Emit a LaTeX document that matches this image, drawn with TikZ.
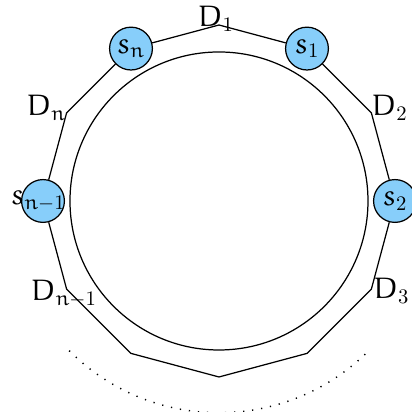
\documentclass[tikz,border=0pt]{standalone}
\usepackage{amsmath,amssymb}
\usepackage{xcolor}
\usepackage{tikz}
\usetikzlibrary{positioning,calc}
\DeclareSymbolFont{letters}{U}{eur}{m}{n}
\definecolor{skyfill}{RGB}{135,206,250}
\tikzset{
  site/.style={circle, draw, fill=skyfill, minimum size=7.3mm, inner sep=0pt, line width=0.6pt},
  sitetxt/.style={inner sep=0pt, font=\Large},
  dlbl/.style={inner sep=0pt, font=\Large},
  ring/.style={black, line width=0.6pt},
  farpart/.style={line width=0.7pt, dash pattern=on 0.6pt off 3.8pt},
}

\begin{document}
\begin{tikzpicture}
\useasboundingbox (-3.733,-3.596) rectangle (3.29,3.426);
% corners of the ring
\coordinate (d1) at (90:3);
\coordinate (d2) at (30:3);
\coordinate (d3) at (-30:3);
\coordinate (c1) at (-60:3);
\coordinate (c2) at (-90:3);
\coordinate (c3) at (-120:3);
\coordinate (dm) at (-150:3);
\coordinate (dn) at (150:3);
% sites
\node[site] (s1) at (60:3) {};
\node[site] (s2) at (0:3) {};
\node[site] (sm) at (180:3) {};
\node[site] (sn) at (120:3) {};
\draw[ring] (d1) -- (s1) -- (d2) -- (s2) -- (d3) -- (c1) -- (c2) -- (c3) -- (dm) -- (sm) -- (dn) -- (sn) -- (d1);
\draw[ring] (0,0) circle (2.54);
\draw[farpart] (-135:3.61) arc (-135:-45:3.61);
\node[sitetxt] (s1t) at (s1) {$s_1$};
\node[sitetxt] (s2t) at (s2) {$s_2$};
\node[sitetxt] (smt) at ($(sm)+(-0.08,0)$) {$s_{n-1}$};
\node[sitetxt] (snt) at (sn) {$s_n$};
\node[dlbl, anchor=base] (d1t) at ($(d1)+(-0.05,-0.03)$) {$D_1$};
\node[dlbl, anchor=base west] (d2t) at ($(d2)+(0,-0.05)$) {$D_2$};
\node[dlbl, anchor=base west] (d3t) at ($(d3)+(0.03,-0.17)$) {$D_3$};
\node[dlbl, anchor=base west] (dmt) at ($(dm)+(-0.61,-0.2)$) {$D_{n-1}$};
\node[dlbl, anchor=base east] (dnt) at ($(dn)+(0,-0.05)$) {$D_n$};
\end{tikzpicture}
\end{document}
